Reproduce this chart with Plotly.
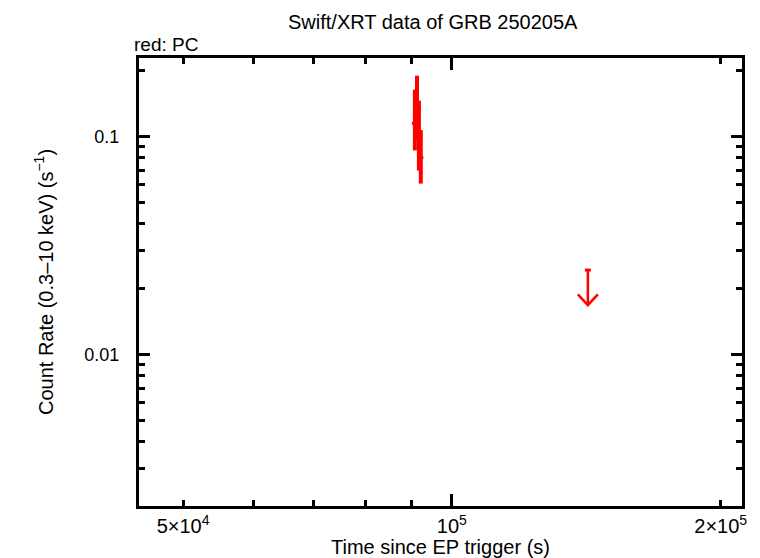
import plotly.graph_objects as go
import numpy as np

# PC mode detections
pc_time = [90900, 91400, 91850, 92300]
pc_time_err = [700, 950, 750, 600]
pc_rate = [0.115, 0.135, 0.100, 0.080]
pc_rate_hi = [0.164, 0.190, 0.146, 0.107]
pc_rate_lo = [0.0863, 0.096, 0.0698, 0.0608]

# PC mode upper limit
ul_time = [142000]
ul_time_err = [1100]
ul_rate = [0.0244]

x_range = [44630, 211300]
y_range = [0.00202, 0.229]
x_tickvals = [5e4, 1e5, 2e5]
x_ticktext = ["5×10<sup>4</sup>", "10<sup>5</sup>", "2×10<sup>5</sup>"]
x_minor = [6e4, 7e4, 8e4, 9e4]
y_tickvals = [0.01, 0.1]
y_ticktext = ["0.01", "0.1"]
y_minor = [m * 10.0**e for e in (-3, -2, -1) for m in range(2, 10)]

RED = "#ff0000"
FONT = "Liberation Sans, Arial, Helvetica, sans-serif"

fig = go.Figure()

fig.add_trace(go.Scatter(
    x=pc_time, y=pc_rate, mode="markers",
    marker=dict(size=1, color=RED),
    error_x=dict(type="data", array=pc_time_err, color=RED, thickness=3, width=0),
    error_y=dict(type="data", symmetric=False,
                 array=[h - r for h, r in zip(pc_rate_hi, pc_rate)],
                 arrayminus=[r - l for r, l in zip(pc_rate, pc_rate_lo)],
                 color=RED, thickness=4, width=0),
    showlegend=False, hoverinfo="skip"))

# upper limit: cap + shaft + open arrowhead
for t, te, r in zip(ul_time, ul_time_err, ul_rate):
    tip = r * 0.69
    fig.add_trace(go.Scatter(x=[t - te, t + te], y=[r, r], mode="lines",
                             line=dict(color=RED, width=3), showlegend=False, hoverinfo="skip"))
    fig.add_trace(go.Scatter(x=[t, t], y=[r, tip], mode="lines",
                             line=dict(color=RED, width=2.5), showlegend=False, hoverinfo="skip"))
    hx = 10 ** 0.0112
    hy = 10 ** 0.05
    fig.add_trace(go.Scatter(x=[t / hx, t, t * hx], y=[tip * hy, tip, tip * hy], mode="lines",
                             line=dict(color=RED, width=2.5), showlegend=False, hoverinfo="skip"))

# extra axis for the longer 10^5 tick
fig.add_trace(go.Scatter(x=[1e5], y=[0.05], xaxis="x2", mode="markers",
                         marker=dict(opacity=0), showlegend=False, hoverinfo="skip"))

fig.update_layout(
    width=760, height=558,
    margin=dict(l=139, r=18, t=58, b=52),
    paper_bgcolor="white", plot_bgcolor="white",
    font=dict(family=FONT, size=17, color="black"),
    xaxis=dict(type="log", range=[np.log10(x_range[0]), np.log10(x_range[1])],
               tickmode="array", tickvals=x_tickvals, ticktext=x_ticktext,
               ticks="inside", ticklen=6, tickwidth=2.5, tickcolor="black",
               tickfont=dict(family=FONT, size=20, color="black"), automargin=False,
               minor=dict(tickmode="array", tickvals=x_minor, ticks="inside", ticklen=6,
                          tickwidth=2.5, tickcolor="black", showgrid=False),
               showline=True, linecolor="black", linewidth=3, mirror="ticks",
               showgrid=False, zeroline=False,
               title=dict(text="Time since EP trigger (s)", font=dict(size=20), standoff=2)),
    xaxis2=dict(type="log", overlaying="x", side="bottom",
                range=[np.log10(x_range[0]), np.log10(x_range[1])],
                tickmode="array", tickvals=[1e5], ticks="inside", ticklen=12, tickwidth=2.5,
                tickcolor="black", showticklabels=False, showgrid=False, zeroline=False,
                mirror="ticks", showline=False, automargin=False),
    yaxis=dict(type="log", range=[np.log10(y_range[0]), np.log10(y_range[1])],
               tickmode="array", tickvals=y_tickvals, ticktext=y_ticktext,
               ticks="inside", ticklen=11, tickwidth=2.5, tickcolor="black",
               tickfont=dict(family=FONT, size=18, color="black"), automargin=False,
               minor=dict(tickmode="array", tickvals=y_minor, ticks="inside", ticklen=6,
                          tickwidth=2.5, tickcolor="black", showgrid=False),
               showline=True, linecolor="black", linewidth=3, mirror="ticks",
               showgrid=False, zeroline=False, ticklabelstandoff=13,
               title=dict(text="Count Rate (0.3–10 keV) (s<sup>−1</sup>)", font=dict(size=20), standoff=26)),
    annotations=[
        dict(text="Swift/XRT data of GRB 250205A", x=(433 - 139) / 603, y=1,
             xref="paper", yref="paper", xanchor="center", yanchor="middle", yshift=36.5,
             showarrow=False, font=dict(size=20)),
        dict(text="red: PC", x=(132 - 139) / 603, y=1, xref="paper", yref="paper",
             xanchor="left", yanchor="middle", yshift=14, showarrow=False, font=dict(size=19)),
    ],
)

fig.write_html("out.html", config={"displayModeBar": False})
with open("out.html", "r", encoding="utf-8") as f:
    html = f.read()
html = html.replace("<body>", '<body style="margin:0;padding:0;">', 1)
with open("out.html", "w", encoding="utf-8") as f:
    f.write(html)
